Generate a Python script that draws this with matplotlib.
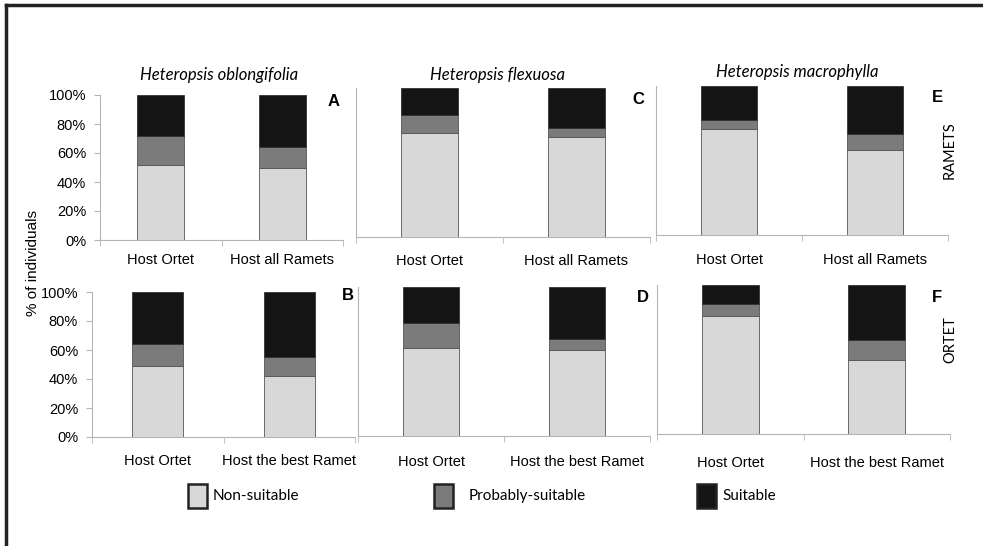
import matplotlib
matplotlib.use("Agg")
import matplotlib.pyplot as plt
from matplotlib.patches import Rectangle
from matplotlib.lines import Line2D

W, H = 983, 546

# data (% of individuals)
categories = ["Non-suitable", "Probably-suitable", "Suitable"]
colors = ["#d8d8d8", "#7b7b7b", "#141414"]

top_labels = ["Host Ortet", "Host all Ramets"]
bottom_labels = ["Host Ortet", "Host the best Ramet"]
species = ["Heteropsis oblongifolia", "Heteropsis flexuosa", "Heteropsis macrophylla"]

# each panel: [non-suitable], [probably-suitable], [suitable] for the two bars
A_non, A_prob, A_suit = [52, 50], [20, 14], [28, 36]
C_non, C_prob, C_suit = [70, 67], [12, 6], [18, 27]
E_non, E_prob, E_suit = [71, 57], [6, 11], [23, 32]
B_non, B_prob, B_suit = [49, 42], [15, 13], [36, 45]
D_non, D_prob, D_suit = [59, 58], [17, 7], [24, 35]
F_non, F_prob, F_suit = [79, 50], [8, 13], [13, 37]

yticks = [0, 20, 40, 60, 80, 100]
ytick_labels = ["0%", "20%", "40%", "60%", "80%", "100%"]

plt.rcParams["font.family"] = ["Liberation Sans", "DejaVu Sans"]

fig = plt.figure(figsize=(W / 100, H / 100), dpi=100)


def rect(x0, y0, x1, y1):
    return [x0 / W, 1 - y1 / H, (x1 - x0) / W, (y1 - y0) / H]


def panel(box, non, prob, suit, labels, letter, letter_xy, show_y, pad):
    ax = fig.add_axes(rect(*box))
    x = [0, 1]
    ax.bar(x, non, 0.39, color=colors[0], edgecolor="#555555", linewidth=0.6)
    ax.bar(x, prob, 0.39, bottom=non, color=colors[1], edgecolor="#555555", linewidth=0.6)
    bot = [a + b for a, b in zip(non, prob)]
    ax.bar(x, suit, 0.39, bottom=bot, color=colors[2], edgecolor="#333333", linewidth=0.6)
    ax.set_xlim(-0.5, 1.5)
    ax.set_ylim(0, 100)
    for s in ["top", "right"]:
        ax.spines[s].set_visible(False)
    for s in ["left", "bottom"]:
        ax.spines[s].set_color("#b5b5b5")
        ax.spines[s].set_linewidth(0.8)
    ax.set_xticks(x)
    ax.set_xticklabels(labels, fontsize=10.5)
    ax.tick_params(axis="x", which="major", length=0, pad=pad)
    ax.set_xticks([-0.5, 0.5, 1.5], minor=True)
    ax.tick_params(axis="x", which="minor", length=4, color="#b5b5b5", direction="out")
    if show_y:
        ax.set_yticks(yticks)
        ax.set_yticklabels(ytick_labels, fontsize=10.5)
        ax.tick_params(axis="y", length=4, color="#b5b5b5", pad=6)
    else:
        ax.set_yticks([])
    fig.text(letter_xy[0] / W, 1 - letter_xy[1] / H, letter, fontsize=12,
             fontweight="bold", ha="center", va="center")
    return ax


panel((100, 95, 343, 240), A_non, A_prob, A_suit, top_labels, "A", (334, 102), True, 9)
panel((356, 88, 650, 237), C_non, C_prob, C_suit, top_labels, "C", (638, 100), False, 12)
panel((656, 86, 948, 235), E_non, E_prob, E_suit, top_labels, "E", (937, 97), False, 13)
panel((92, 292, 355, 437), B_non, B_prob, B_suit, bottom_labels, "B", (348, 296), True, 12)
panel((358, 287, 650, 436), D_non, D_prob, D_suit, bottom_labels, "D", (643, 298), False, 14)
panel((657, 285, 950, 434), F_non, F_prob, F_suit, bottom_labels, "F", (937, 297), False, 16)

# species titles
for name, (tx, ty) in zip(species, [(219, 75), (497, 75), (797, 72)]):
    fig.text(tx / W, 1 - ty / H, name, fontsize=12, style="italic",
             family=["Lato", "DejaVu Sans"], ha="center", va="center")

# row labels
fig.text(950 / W, 1 - 150 / H, "RAMETS", fontsize=10.5, rotation=90,
         family=["Lato", "DejaVu Sans"], ha="center", va="center")
fig.text(950 / W, 1 - 340 / H, "ORTET", fontsize=10.5, rotation=90,
         family=["Lato", "DejaVu Sans"], ha="center", va="center")

fig.text(33 / W, 1 - 263 / H, "% of individuals", fontsize=11, rotation=90,
         ha="center", va="center")

# legend
for lab, col, bx, tx in zip(categories, colors, [188, 434, 697], [213, 469, 722]):
    fig.patches.append(Rectangle((bx / W, 1 - 508 / H), 19 / W, 24 / H,
                                 transform=fig.transFigure, facecolor=col,
                                 edgecolor="#222222", linewidth=1.8))
    fig.text(tx / W, 1 - 496 / H, lab, fontsize=11, family=["Lato", "DejaVu Sans"],
             ha="left", va="center")

# frame lines (top and left)
fig.add_artist(Line2D([6 / W, 1], [1 - 5 / H, 1 - 5 / H], transform=fig.transFigure,
                      color="#222222", linewidth=2.5))
fig.add_artist(Line2D([6 / W, 6 / W], [0, 1 - 5 / H], transform=fig.transFigure,
                      color="#222222", linewidth=2.5))

fig.savefig("out.png", dpi=100)
